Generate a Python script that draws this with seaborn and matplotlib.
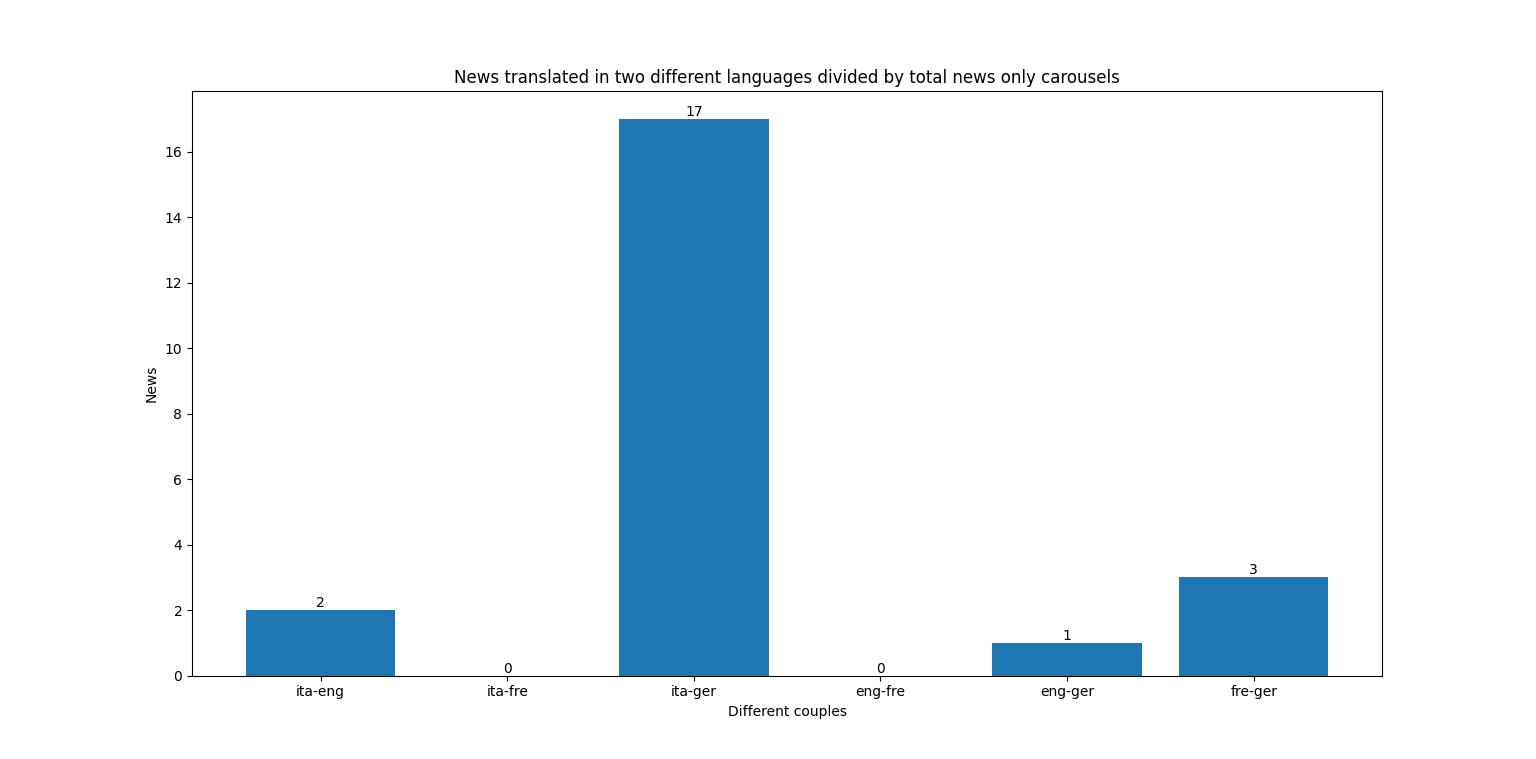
import matplotlib
matplotlib.use("Agg")
import matplotlib.pyplot as plt
import seaborn as sns

couples = ["ita-eng", "ita-fre", "ita-ger", "eng-fre", "eng-ger", "fre-ger"]
news = [2, 0, 17, 0, 1, 3]

fig, ax = plt.subplots(figsize=(15.36, 7.59), dpi=100)
sns.barplot(x=couples, y=news, color="#1f77b4", saturation=1, width=0.8, ax=ax)
ax.bar_label(ax.containers[0])

n = len(couples)
pad = 0.05 * (n - 1 + 0.8)
ax.set_xlim(-0.4 - pad, n - 1 + 0.4 + pad)
ax.set_ylim(0, max(news) * 1.05)

ax.set_title("News translated in two different languages divided by total news only carousels")
ax.set_xlabel("Different couples")
ax.set_ylabel("News")

plt.savefig("out.png", dpi=100)
plt.close(fig)
